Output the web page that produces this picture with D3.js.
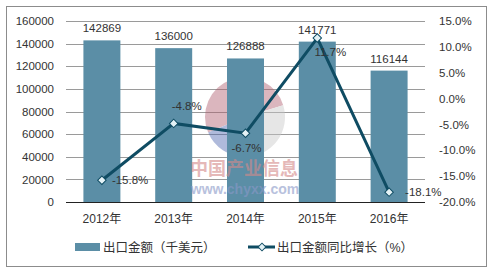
<!DOCTYPE html>
<html>
<head>
<meta charset="utf-8">
<script src="https://cdn.jsdelivr.net/npm/d3@7"></script>
<style>
  body { margin: 0; background: #fff; }
  text { font-family: "Liberation Sans", Arial, "Noto Sans CJK SC", sans-serif; fill: #333; }
</style>
</head>
<body>
<script>
// chart data
const years = ["2012年", "2013年", "2014年", "2015年", "2016年"]
const exportValue = [142869, 136000, 126888, 141771, 116144]   // 千美元
const growth = [-15.8, -4.8, -6.7, 11.7, -18.1]                // %
const leftTicks = [0, 20000, 40000, 60000, 80000, 100000, 120000, 140000, 160000]
const rightTicks = [-20, -15, -10, -5, 0, 5, 10, 15]

const W = 493, H = 273
const barColor = "#5b8ea6", lineColor = "#0f4c63"
const pct = d => d.toFixed(1) + "%"   // plain hyphen minus like the original

const svg = d3.select("body").append("svg").attr("width", W).attr("height", H)

// frame
svg.append("rect").attr("x", 6.5).attr("y", 6.5).attr("width", 480).attr("height", 260)
  .attr("fill", "none").attr("stroke", "#8c8c8c")

const x = d3.scaleBand().domain(years).range([66, 425]).paddingInner(0.485).paddingOuter(0.2425)
const y = d3.scaleLinear().domain([0, 160000]).range([202, 21])
const y2 = d3.scaleLinear().domain([-20, 15]).range([202, 21])

// grid
svg.append("g").selectAll("line").data(leftTicks.slice(1)).enter().append("line")
  .attr("x1", 66).attr("x2", 425)
  .attr("y1", d => Math.round(y(d)) + 0.5).attr("y2", d => Math.round(y(d)) + 0.5)
  .attr("stroke", "#9a9a9a")

// left axis labels
const ga = svg.append("g").attr("transform", "translate(54,0)")
  .call(d3.axisLeft(y).tickValues(leftTicks).tickSize(0).tickPadding(0).tickFormat(d => String(d)))
ga.select(".domain").remove()
ga.selectAll("text").style("font-size", "11.5px").attr("fill", "#333")

// right axis labels
const gr = svg.append("g").attr("transform", "translate(439,0)")
  .call(d3.axisRight(y2).tickValues(rightTicks).tickSize(0).tickPadding(0).tickFormat(pct))
gr.select(".domain").remove()
gr.selectAll("text").style("font-size", "11.5px").attr("fill", "#333")

// watermark
const wm = svg.append("g").attr("transform", "translate(245,117)").attr("opacity", 0.45)
const arc = d3.arc().innerRadius(16).outerRadius(40)
const wmParts = [
  { s: -Math.PI / 2 - 0.4, e: Math.PI / 2 - 0.3, c: "#b06070" },
  { s: Math.PI / 2 - 0.3, e: Math.PI, c: "#c8c8c8" },
  { s: Math.PI, e: Math.PI * 1.5 - 0.4, c: "#5068b0" }
]
wm.selectAll("path").data(wmParts).enter().append("path")
  .attr("d", d => arc({ startAngle: d.s, endAngle: d.e })).attr("fill", d => d.c)

// bars
svg.append("g").selectAll("rect").data(exportValue).enter().append("rect")
  .attr("x", (d, i) => x(years[i])).attr("width", x.bandwidth())
  .attr("y", d => y(d)).attr("height", d => y(0) - y(d))
  .attr("fill", barColor)

svg.append("g").selectAll("text").data(exportValue).enter().append("text")
  .attr("x", (d, i) => x(years[i]) + x.bandwidth() / 2).attr("y", d => y(d) - 8)
  .attr("text-anchor", "middle").style("font-size", "11.5px").text(d => d)

// watermark text
svg.append("text").attr("x", 244).attr("y", 175).attr("text-anchor", "middle")
  .style("font-size", "18px").style("font-weight", "bold").style("fill", "#d48a8a").attr("opacity", 0.6)
  .text("中国产业信息")
svg.append("text").attr("x", 245).attr("y", 194).attr("text-anchor", "middle")
  .style("font-size", "14px").style("font-weight", "bold").style("fill", "#8a98c8").attr("opacity", 0.6)
  .text("www.chyxx.com")

// baseline
svg.append("line").attr("x1", 66).attr("x2", 425).attr("y1", 202.5).attr("y2", 202.5).attr("stroke", "#222")

// x labels
svg.append("g").selectAll("text").data(years).enter().append("text")
  .attr("x", d => x(d) + x.bandwidth() / 2).attr("y", 223)
  .attr("text-anchor", "middle").style("font-size", "12px").text(d => d)

// growth line
const cx = i => x(years[i]) + x.bandwidth() / 2
const line = d3.line().x((d, i) => cx(i)).y(d => y2(d))
svg.append("path").datum(growth).attr("d", line)
  .attr("fill", "none").attr("stroke", lineColor).attr("stroke-width", 3)

svg.append("g").selectAll("path").data(growth).enter().append("path")
  .attr("d", d3.symbol().type(d3.symbolSquare).size(36))
  .attr("transform", (d, i) => `translate(${cx(i)},${y2(d)}) rotate(45)`)
  .attr("fill", "#e4f2f6").attr("stroke", lineColor).attr("stroke-width", 1)

const labelOff = [[10, 4, "start"], [13, -13, "middle"], [1, 19, "middle"], [13, 18, "middle"], [16, 4, "start"]]
svg.append("g").selectAll("text").data(growth).enter().append("text")
  .attr("x", (d, i) => cx(i) + labelOff[i][0]).attr("y", (d, i) => y2(d) + labelOff[i][1])
  .attr("text-anchor", (d, i) => labelOff[i][2]).style("font-size", "11.5px")
  .text(pct)

// legend
const lg = svg.append("g")
lg.append("rect").attr("x", 75).attr("y", 243).attr("width", 25).attr("height", 8).attr("fill", barColor)
lg.append("text").attr("x", 103).attr("y", 252).style("font-size", "12.5px").text("出口金额（千美元）")
lg.append("line").attr("x1", 248).attr("x2", 275).attr("y1", 247).attr("y2", 247)
  .attr("stroke", lineColor).attr("stroke-width", 3)
lg.append("path").attr("d", d3.symbol().type(d3.symbolSquare).size(30))
  .attr("transform", "translate(262,247) rotate(45)")
  .attr("fill", "#e4f2f6").attr("stroke", lineColor)
lg.append("text").attr("x", 277).attr("y", 252).style("font-size", "12.5px").text("出口金额同比增长（%）")
</script>
</body>
</html>
